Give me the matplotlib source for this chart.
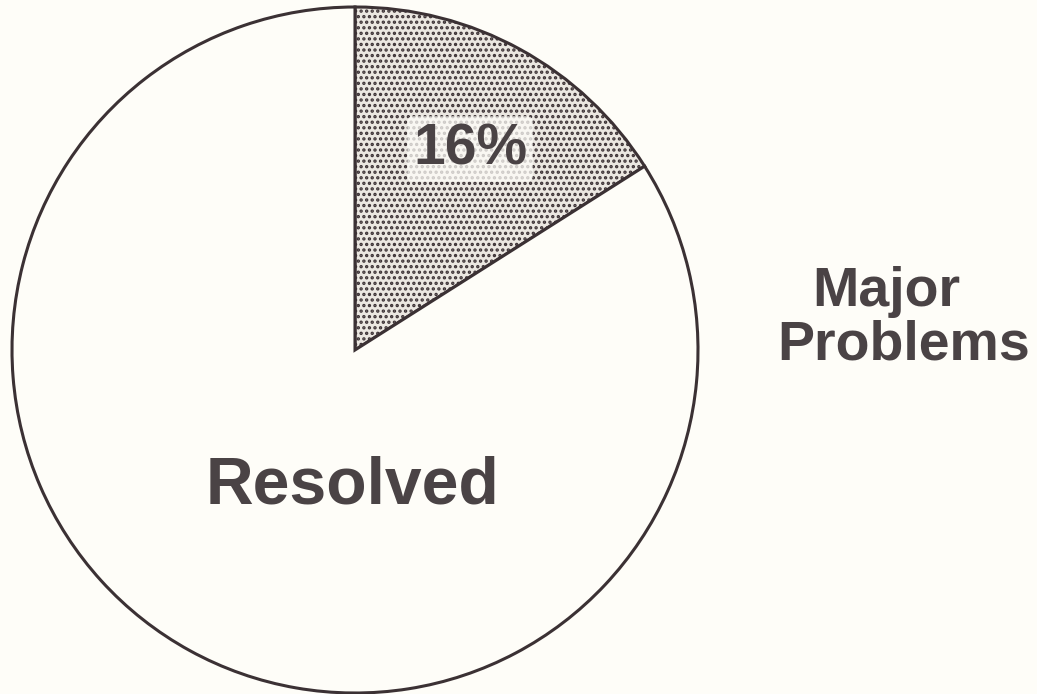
import matplotlib
matplotlib.use("Agg")
import matplotlib.pyplot as plt

# Share of cases by outcome
labels = ["Major Problems", "Resolved"]
shares = [16, 84]
pct_text = "16%"

bg = "#fefdf8"
ink = "#3b3134"
text_ink = "#4a4345"

plt.rcParams["hatch.color"] = "#4a4044"
plt.rcParams["hatch.linewidth"] = 1.6

fig = plt.figure(figsize=(10.37, 6.94), dpi=100, facecolor=bg)
ax = fig.add_axes([0, 0, 1, 1])
ax.set_facecolor(bg)

wedges, _ = ax.pie(
    shares,
    center=(355, 344),
    radius=343,
    startangle=90,
    counterclock=False,
    colors=["#ebe7e1", bg],
    wedgeprops=dict(edgecolor=ink, linewidth=2.2),
    frame=True,
)
wedges[0].set_hatch("...")

ax.set_xlim(0, 1037)
ax.set_ylim(0, 694)
ax.set_aspect("equal")
ax.axis("off")

font = ["Liberation Sans", "DejaVu Sans"]
ax.text(470, 694 - 149, pct_text, ha="center", va="center", fontsize=41,
        fontweight="bold", family=font, color=text_ink,
        bbox=dict(boxstyle="round,pad=0.1", facecolor=bg, edgecolor="none", alpha=0.75))
ax.text(353, 694 - 486, labels[1], ha="center", va="center", fontsize=47.5,
        fontweight="bold", family=font, color=text_ink)
ax.text(886, 694 - 292, "Major", ha="center", va="center", fontsize=40,
        fontweight="bold", family=font, color=text_ink)
ax.text(904, 694 - 345, "Problems", ha="center", va="center", fontsize=40,
        fontweight="bold", family=font, color=text_ink)

fig.savefig("out.png", dpi=100, facecolor=bg)
